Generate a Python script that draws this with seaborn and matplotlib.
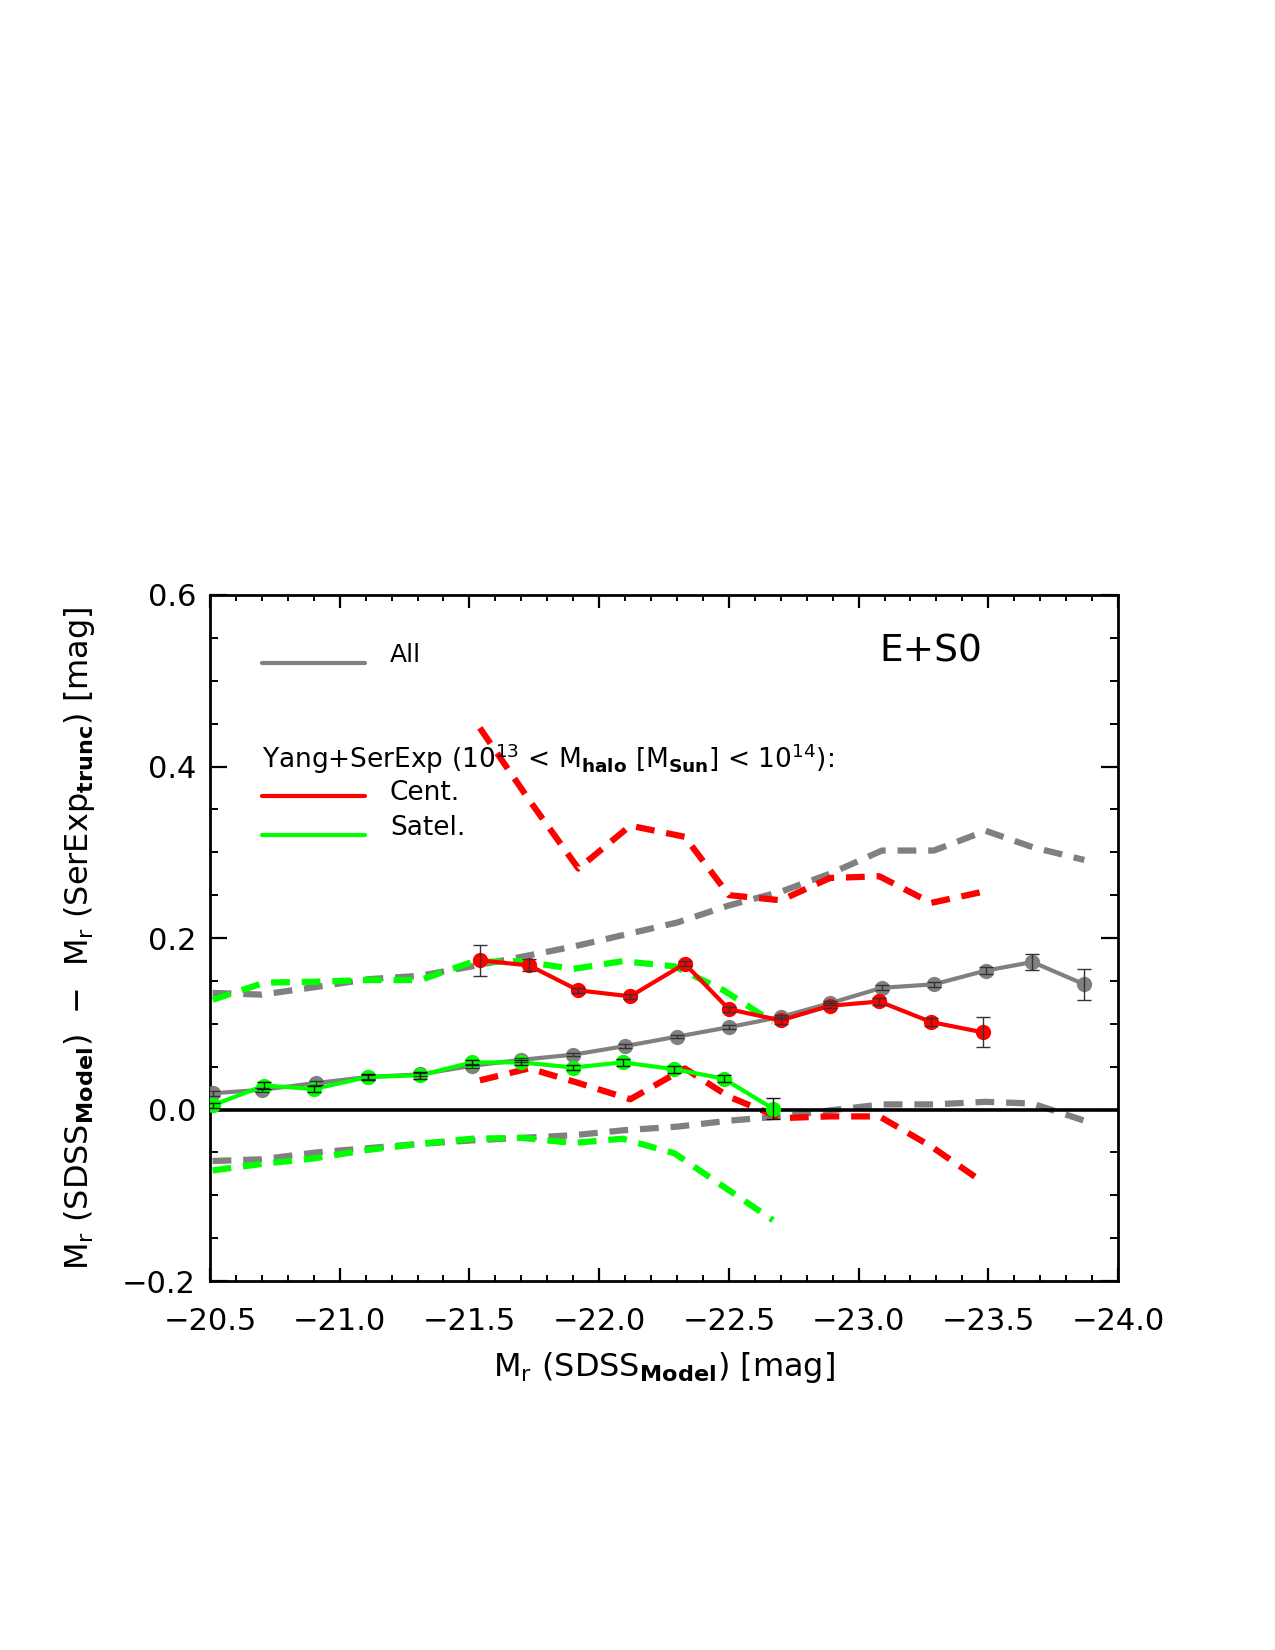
import numpy as np
import pandas as pd
import matplotlib
matplotlib.use("Agg")
import matplotlib.pyplot as plt
from matplotlib.ticker import MultipleLocator, FuncFormatter
import seaborn as sns

# ---------------- data ----------------
# All galaxies (grey)
all_x = [-20.51, -20.70, -20.91, -21.11, -21.31, -21.51, -21.70, -21.90, -22.10, -22.30,
         -22.50, -22.70, -22.89, -23.09, -23.29, -23.49, -23.67, -23.87]
all_y = [0.019, 0.023, 0.031, 0.038, 0.041, 0.051, 0.058, 0.064, 0.074, 0.085,
         0.096, 0.108, 0.124, 0.142, 0.146, 0.162, 0.172, 0.146]
all_err = [0.003, 0.002, 0.002, 0.002, 0.002, 0.002, 0.002, 0.002, 0.002, 0.002,
           0.002, 0.002, 0.002, 0.003, 0.003, 0.004, 0.009, 0.018]
all_hi = [0.136, 0.134, 0.143, 0.152, 0.156, 0.167, 0.178, 0.190, 0.204, 0.218,
          0.238, 0.254, 0.275, 0.302, 0.302, 0.325, 0.306, 0.291]
all_lo = [-0.060, -0.058, -0.050, -0.045, -0.040, -0.036, -0.033, -0.030, -0.024, -0.020,
          -0.013, -0.008, -0.001, 0.006, 0.006, 0.009, 0.007, -0.013]

# Centrals (red)
cen_x = [-21.54, -21.73, -21.92, -22.12, -22.33, -22.50, -22.70, -22.89, -23.08, -23.28, -23.48]
cen_y = [0.174, 0.168, 0.139, 0.132, 0.170, 0.117, 0.104, 0.121, 0.126, 0.102, 0.090]
cen_err = [0.018, 0.007, 0.003, 0.003, 0.003, 0.003, 0.004, 0.003, 0.004, 0.005, 0.0175]
cen_hi = [0.445, 0.361, 0.281, 0.331, 0.318, 0.250, 0.244, 0.270, 0.272, 0.241, 0.254]
cen_lo = [0.034, 0.048, 0.031, 0.012, 0.048, 0.015, -0.010, -0.008, -0.008, -0.043, -0.085]

# Satellites (green)
sat_x = [-20.51, -20.71, -20.90, -21.11, -21.31, -21.51, -21.70, -21.90, -22.09, -22.29, -22.48, -22.67]
sat_y = [0.005, 0.028, 0.024, 0.038, 0.040, 0.055, 0.055, 0.049, 0.055, 0.047, 0.036, 0.001]
sat_err = [0.003, 0.004, 0.004, 0.003, 0.004, 0.003, 0.003, 0.003, 0.004, 0.004, 0.004, 0.012]
sat_hi = [0.128, 0.148, 0.149, 0.151, 0.151, 0.172, 0.173, 0.164, 0.173, 0.167, 0.139, 0.102]
sat_lo = [-0.071, -0.063, -0.057, -0.047, -0.040, -0.034, -0.033, -0.039, -0.034, -0.051, -0.090, -0.129]

x_ticks = [-20.5, -21.0, -21.5, -22.0, -22.5, -23.0, -23.5, -24.0]
y_ticks = [-0.2, 0.0, 0.2, 0.4, 0.6]

GREY = "#808080"
RED = "#ff0000"
GREEN = "#00ff00"

# ---------------- style ----------------
sns.set_style("ticks")
plt.rcParams["font.family"] = ["DejaVu Sans"]
plt.rcParams["mathtext.fontset"] = "dejavusans"
plt.rcParams["mathtext.default"] = "regular"
for k in ["text.color", "axes.labelcolor", "xtick.color", "ytick.color", "axes.edgecolor"]:
    plt.rcParams[k] = "black"

fig = plt.figure(figsize=(12.75, 16.5), dpi=100)
ax = fig.add_axes([0.1647, 0.2236, 0.7122, 0.4158])

DASH = (0, (3.0, 1.9))
dlw = 4.5

def dashed(x, y, c):
    sns.lineplot(x=x, y=y, ax=ax, color=c, linewidth=dlw, linestyle=DASH,
                 sort=False, estimator=None)

# dashed percentile lines
dashed(all_x, all_hi, GREY)
dashed(all_x, all_lo, GREY)
dashed(sat_x, sat_hi, GREEN)
dashed(sat_x, sat_lo, GREEN)
dashed(cen_x, cen_hi, RED)
dashed(cen_x, cen_lo, RED)

# zero line
ax.axhline(0.0, color="black", linewidth=2.6, zorder=3)

def solid(x, y, e, c, ecol):
    sns.lineplot(x=x, y=y, ax=ax, color=c, linewidth=3.0, marker="o",
                 markersize=11, markeredgewidth=0, sort=False, estimator=None, zorder=4)
    ax.errorbar(x, y, yerr=e, fmt="none", ecolor=ecol, elinewidth=1.0,
                capsize=5, capthick=1.0, zorder=5)

solid(all_x, all_y, all_err, GREY, "#333333")
solid(sat_x, sat_y, sat_err, GREEN, "#111111")
solid(cen_x, cen_y, cen_err, RED, "#333333")

# axes
ax.set_xlim(-20.5, -24.0)
ax.set_ylim(-0.2, 0.6)
ax.set_xticks(x_ticks)
ax.set_yticks(y_ticks)
ax.xaxis.set_minor_locator(MultipleLocator(0.1))
ax.yaxis.set_minor_locator(MultipleLocator(0.05))
fmt = FuncFormatter(lambda v, p: ("%.1f" % v).replace("-", "\u2212"))
ax.xaxis.set_major_formatter(fmt)
ax.yaxis.set_major_formatter(fmt)

for s in ax.spines.values():
    s.set_linewidth(2.0)
    s.set_color("black")
    s.set_visible(True)

ax.tick_params(axis="y", which="major", direction="in", length=12, width=1.6,
               left=True, right=True, labelsize=22, pad=10)
ax.tick_params(axis="y", which="minor", direction="in", length=6, width=1.4,
               left=True, right=True)
ax.tick_params(axis="x", which="major", direction="in", length=9.5, width=1.6,
               bottom=True, top=True, labelsize=22, pad=19)
ax.tick_params(axis="x", which="minor", direction="in", length=4.5, width=1.4,
               bottom=True, top=True)

ax.set_xlabel(r"M$_r$ (SDSS$_{\mathbf{Model}}$) [mag]", fontsize=23, labelpad=10)
ax.set_ylabel(r"M$_r$ (SDSS$_{\mathbf{Model}}$)  $-$  M$_r$ (SerExp$_{\mathbf{trunc}}$) [mag]",
              fontsize=23, labelpad=18)

# legend (manual, IDL style)
T = ax.transAxes
ax.plot([0.057, 0.171], [0.901, 0.901], color=GREY, linewidth=3.0, transform=T)
ax.text(0.198, 0.912, "All", transform=T, fontsize=18, va="center", ha="left")
ax.text(0.057, 0.762,
        r"Yang+SerExp (10$^{13}$ < M$_{\mathbf{halo}}$ [M$_{\mathbf{Sun}}$] < 10$^{14}$):",
        transform=T, fontsize=19, va="center", ha="left")
ax.plot([0.057, 0.171], [0.7074, 0.7074], color=RED, linewidth=3.0, transform=T)
ax.text(0.198, 0.7114, "Cent.", transform=T, fontsize=19, va="center", ha="left")
ax.plot([0.057, 0.171], [0.650, 0.650], color=GREEN, linewidth=3.0, transform=T)
ax.text(0.198, 0.6603, "Satel.", transform=T, fontsize=19, va="center", ha="left")
ax.text(0.794, 0.917, "E+S0", transform=T, fontsize=27, va="center", ha="center")

fig.savefig("out.png", dpi=100)
